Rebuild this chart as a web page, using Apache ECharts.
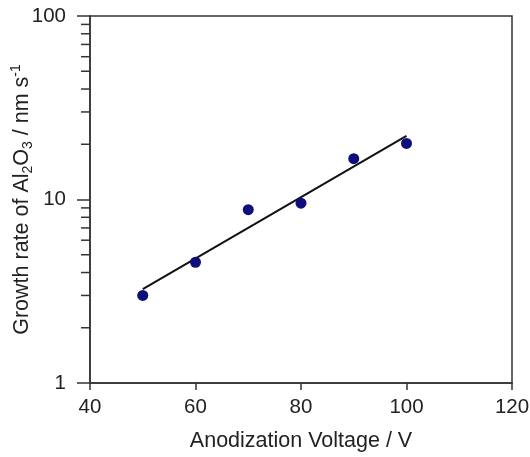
<!DOCTYPE html>
<html>
<head>
<meta charset="utf-8">
<script src="https://cdn.jsdelivr.net/npm/echarts@6/dist/echarts.min.js"></script>
<style>
html,body{margin:0;padding:0;background:#fff;}
#c{width:530px;height:457px;}
</style>
</head>
<body>
<div id="c"></div>
<script>
var voltages = [50, 60, 70, 80, 90, 100];
var growthRates = [3.0, 4.55, 8.8, 9.55, 16.7, 20.2];
var fitX = [50, 100];
var fitY = [3.25, 22.2];
var xTicks = [40, 60, 80, 100, 120];
var yMajorTicks = [1, 10, 100];
var yMinorTicks = [2, 3, 4, 5, 6, 7, 8, 9, 20, 30, 40, 50, 60, 70, 80, 90];

var FONT = '"Liberation Sans", Arial, sans-serif';
var TXT = '#222';
var AX = '#333';

var chart = echarts.init(document.getElementById('c'), null, {renderer: 'canvas'});
chart.setOption({
  animation: false,
  grid: {left: 90, right: 18, top: 16, bottom: 74, outerBoundsMode: 'none', containLabel: false,
    show: true, borderColor: AX, borderWidth: 1.5, backgroundColor: 'transparent'},
  xAxis: {
    type: 'value', min: xTicks[0], max: xTicks[xTicks.length - 1], interval: 20,
    name: 'Anodization Voltage / V', nameLocation: 'middle', nameGap: 47, nameMoveOverlap: false,
    nameTextStyle: {fontFamily: FONT, fontSize: 21.5, color: TXT},
    axisLine: {show: true, lineStyle: {color: AX, width: 1.5}},
    axisTick: {show: true, inside: false, length: 7, lineStyle: {color: AX, width: 1.5}},
    axisLabel: {fontFamily: FONT, fontSize: 20.5, color: TXT, margin: 14},
    splitLine: {show: false}
  },
  yAxis: {
    type: 'log', logBase: 10, min: 1, max: 100,
    name: '{m|Growth rate of Al}{sub|2}{m|O}{sub|3}{m| / nm s}{sup|-1}', nameLocation: 'middle', nameGap: 55, nameMoveOverlap: false,
    nameTextStyle: {fontFamily: FONT, fontSize: 21.5, color: TXT,
      rich: {
        m: {fontFamily: FONT, fontSize: 21.5, color: TXT, lineHeight: 26},
        sub: {fontFamily: FONT, fontSize: 14, color: TXT, verticalAlign: 'bottom', lineHeight: 14},
        sup: {fontFamily: FONT, fontSize: 14, color: TXT, verticalAlign: 'top', lineHeight: 14}
      }},
    axisLine: {show: true, lineStyle: {color: AX, width: 1.5}},
    axisTick: {show: true, inside: false, length: 13, customValues: yMajorTicks, lineStyle: {color: AX, width: 1.5}},
    axisLabel: {fontFamily: FONT, fontSize: 20.5, color: TXT, margin: 24, customValues: yMajorTicks},
    splitLine: {show: false},
    minorTick: {show: false}
  },
  series: [{
    // minor ticks of the log axis, placed through the axis scales
    type: 'scatter',
    data: yMinorTicks.map(function (v) { return [xTicks[0], v]; }),
    symbol: 'rect', symbolSize: [9, 1.5], symbolOffset: [-4.5, 0],
    itemStyle: {color: AX, opacity: 1},
    clip: false, silent: true, z: 1
  }, {
    type: 'line',
    data: fitX.map(function (x, i) { return [x, fitY[i]]; }),
    symbol: 'none',
    lineStyle: {color: '#111', width: 2},
    z: 2
  }, {
    type: 'scatter',
    data: voltages.map(function (v, i) { return [v, growthRates[i]]; }),
    symbol: 'circle', symbolSize: 11,
    itemStyle: {color: '#0e0e7c', opacity: 1},
    z: 3
  }]
});
</script>
</body>
</html>
